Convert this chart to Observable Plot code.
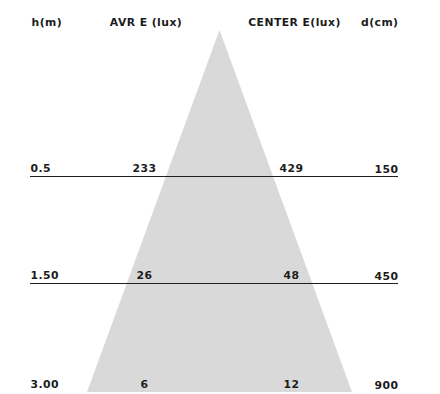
<!DOCTYPE html>
<html>
<head>
<meta charset="utf-8">
<script src="https://cdn.jsdelivr.net/npm/d3@7"></script>
<script src="https://cdn.jsdelivr.net/npm/@observablehq/plot@0.6"></script>
<style>
  html, body { margin: 0; padding: 0; background: #fff; }
  #chart svg { display: block; }
</style>
</head>
<body>
<div id="chart"></div>
<script>
// ---- data ----
const headers = ["h(m)", "AVR E (lux)", "CENTER E(lux)", "d(cm)"];
const heights = ["0.5", "1.50", "3.00"];
const avrLux = [233, 26, 6];
const centerLux = [429, 48, 12];
const diameters = [150, 450, 900];

// ---- layout (row levels on the y scale, column positions on the x scale) ----
const rows = heights.map((h, i) => ({row: i + 1, h, avr: avrLux[i], center: centerLux[i], d: diameters[i]}));
const colH = 30, colAvr = 144, colCenter = 291, colD = 398;
const hdrX = [31, 145.5, 294, 398];
const hdrAnchor = ["start", "middle", "middle", "end"];
const beamCx = 219.5, beamHalf = 132.5, apexLevel = -0.3645, baseLevel = 3.019, headerLevel = -0.402;
const beam = [
  {y: apexLevel, x1: beamCx, x2: beamCx},
  {y: baseLevel, x1: beamCx - beamHalf, x2: beamCx + beamHalf}
];

const font = {fontSize: 10.8, fontWeight: "bold", fill: "#1c1c1c", lineAnchor: "bottom"};
const upper = rows.filter(r => r.row < 3), last = rows.filter(r => r.row === 3);

const textMarks = (data, dy) => [
  Plot.text(data, {x: colH, y: "row", text: "h", textAnchor: "start", dy, ...font}),
  Plot.text(data, {x: colAvr, y: "row", text: "avr", textAnchor: "middle", dy, ...font}),
  Plot.text(data, {x: colCenter, y: "row", text: "center", textAnchor: "middle", dy, ...font}),
  Plot.text(data, {x: colD, y: "row", text: "d", textAnchor: "end", dy: dy + 1, ...font})
];

const headerMarks = headers.map((h, i) =>
  Plot.text([h], {x: hdrX[i], y: headerLevel, text: d => d, textAnchor: hdrAnchor[i], ...font})
);

const chart = Plot.plot({
  width: 440,
  height: 394,
  marginLeft: 0, marginRight: 0, marginTop: 69, marginBottom: 4,
  x: {domain: [0, 440], axis: null},
  y: {domain: [0, 3], reverse: true, axis: null},
  style: {fontFamily: "'DejaVu Sans', sans-serif", background: "#fff", letterSpacing: "0.45px"},
  marks: [
    Plot.areaX(beam, {y: "y", x1: "x1", x2: "x2", fill: "#d9d9d9"}),
    Plot.ruleY([1, 2], {x1: 30, x2: 398, stroke: "#1f1f1f", strokeWidth: 1.2}),
    ...textMarks(upper, -5),
    ...textMarks(last, -3),
    ...headerMarks
  ]
});
document.getElementById("chart").appendChild(chart);
</script>
</body>
</html>
